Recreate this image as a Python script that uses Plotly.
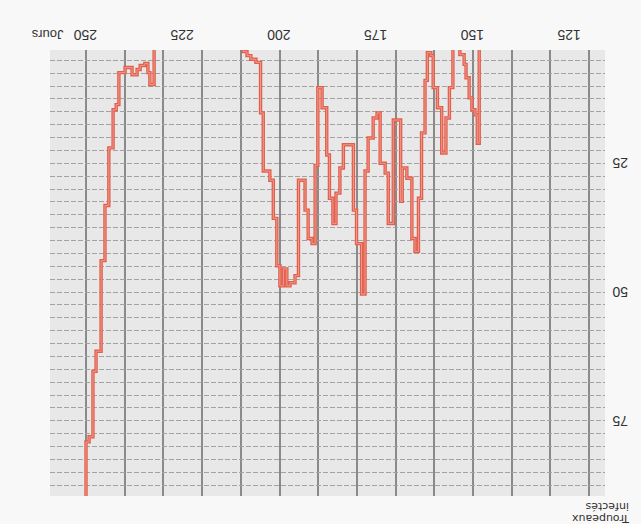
import plotly.graph_objects as go

# Days (x) at which the step curve changes, and the number of infected herds
# holding just below each of those days.
days = [148.4, 148.9, 149.5, 150.3, 151.0, 151.8, 152.3, 153.4, 155.2, 156.1,
        157.0, 158.1, 159.2, 160.3, 160.9, 161.8, 162.4, 163.3, 164.1, 165.0,
        165.8, 167.1, 168.3, 168.7, 170.6, 171.9, 172.7, 174.0, 174.8, 175.8,
        177.1, 177.9, 178.8, 180.1, 180.9, 183.5, 184.4, 185.4, 186.2, 187.1,
        187.8, 189.0, 190.1, 190.8, 191.6, 192.6, 193.4, 195.1, 196.0, 197.3,
        198.1, 199.0, 199.9, 200.7, 201.6, 202.5, 204.2, 204.9, 206.1, 207.4,
        208.4, 209.4, 232.4, 233.5, 234.0, 234.8, 236.0, 236.8, 238.1, 239.9,
        241.5, 242.2, 243.0, 244.1, 245.1, 246.1, 247.4, 248.2, 249.2, 250.0,
        252.0]
herds = [0, 21.1, 15.6, 14.6, 12.3, 8.4, 5.8, 3.9, 0, 10.3,
         16.2, 23.0, 14.2, 10.3, 4.1, 3.5, 8.9, 19.1, 31.8, 42.1,
         39.6, 27.9, 25.9, 32.4, 16.6, 36.7, 26.9, 25.0, 15.2, 16.2,
         20.1, 26.5, 50.4, 40.6, 34.1, 21.4, 25.9, 30.8, 36.7, 31.8,
         23.4, 14.2, 10.3, 25.4, 40.6, 39.6, 34.1, 28.3, 46.8, 48.2,
         48.8, 45.5, 48.8, 44.9, 35.7, 28.3, 26.5, 15.2, 5.4, 4.8,
         4.1, 3.3, 0, 9.7, 7.4, 5.6, 6.0, 6.8, 7.8, 6.4,
         7.4, 13.6, 14.6, 22.0, 33.2, 43.9, 61.5, 65.4, 78.1, 79.1,
         95]

x_range = [259.3, 115.9]
y_range = [89.6, 3.0]
x_label_ticks = [250, 225, 200, 175, 150, 125]
x_grid_ticks = list(range(250, 119, -10))
y_grid_ticks = [5 + 2.5 * i for i in range(34)]
y_label_map = {25: "25", 50: "50", 75: "75"}
y_tick_text = [y_label_map.get(v, "") for v in y_grid_ticks]

FONT = "Liberation Sans, Arial, sans-serif"

fig = go.Figure()
fig.add_trace(go.Scatter(x=days, y=herds, mode="lines", line_shape="vh",
                         line=dict(color="#e35e4b", width=3.4),
                         hoverinfo="skip", showlegend=False))
fig.add_trace(go.Scatter(x=days, y=herds, mode="lines", line_shape="vh",
                         xaxis="x2",
                         line=dict(color="#ef9a8e", width=1.0),
                         hoverinfo="skip", showlegend=False))

fig.update_layout(
    width=641, height=524,
    margin=dict(l=50, r=36, t=50, b=28, autoexpand=False),
    paper_bgcolor="#f8f8f8",
    plot_bgcolor="#e8e8e8",
    font=dict(family=FONT, color="#333333", size=14),
    xaxis=dict(range=x_range, tickmode="array", tickvals=x_grid_ticks,
               showticklabels=False, ticks="", showgrid=True,
               gridcolor="#8a8a8a", gridwidth=2, zeroline=False,
               showline=False, side="top", automargin=False),
    xaxis2=dict(range=x_range, overlaying="x", anchor="y", side="top",
                tickmode="array", tickvals=x_label_ticks,
                ticktext=[str(v) for v in x_label_ticks],
                tickangle=180, showgrid=False, zeroline=False, ticks="",
                showline=False, automargin=False,
                ticklabelshift=-11, ticklabelstandoff=2,
                tickfont=dict(size=14, color="#333333")),
    yaxis=dict(range=y_range, side="right", tickmode="array",
               tickvals=y_grid_ticks, ticktext=y_tick_text, tickangle=180,
               showgrid=True, gridcolor="#a2a2a2", gridwidth=1,
               griddash="5px,2px", zeroline=False, ticks="", showline=False,
               automargin=False, ticklabelstandoff=22, ticklabelshift=-4,
               tickfont=dict(size=14, color="#333333")),
    annotations=[
        dict(text="Jours", xref="paper", yref="paper", x=-0.005, y=1.035,
             xanchor="center", yanchor="middle", textangle=180,
             showarrow=False, font=dict(size=13, color="#333333")),
        dict(text="Troupeaux", xref="paper", yref="paper",
             x=0.9928, y=-0.0493, xanchor="center", yanchor="middle",
             textangle=180, showarrow=False,
             font=dict(family="DejaVu Sans, sans-serif", size=11,
                       color="#333333")),
        dict(text="infectés", xref="paper", yref="paper",
             x=1.0027, y=-0.0224, xanchor="center", yanchor="middle",
             textangle=180, showarrow=False,
             font=dict(family="DejaVu Sans, sans-serif", size=11,
                       color="#333333")),
    ],
)

fig.write_html("out.html", post_script="document.body.style.margin='0';",
               config={"displayModeBar": False})
